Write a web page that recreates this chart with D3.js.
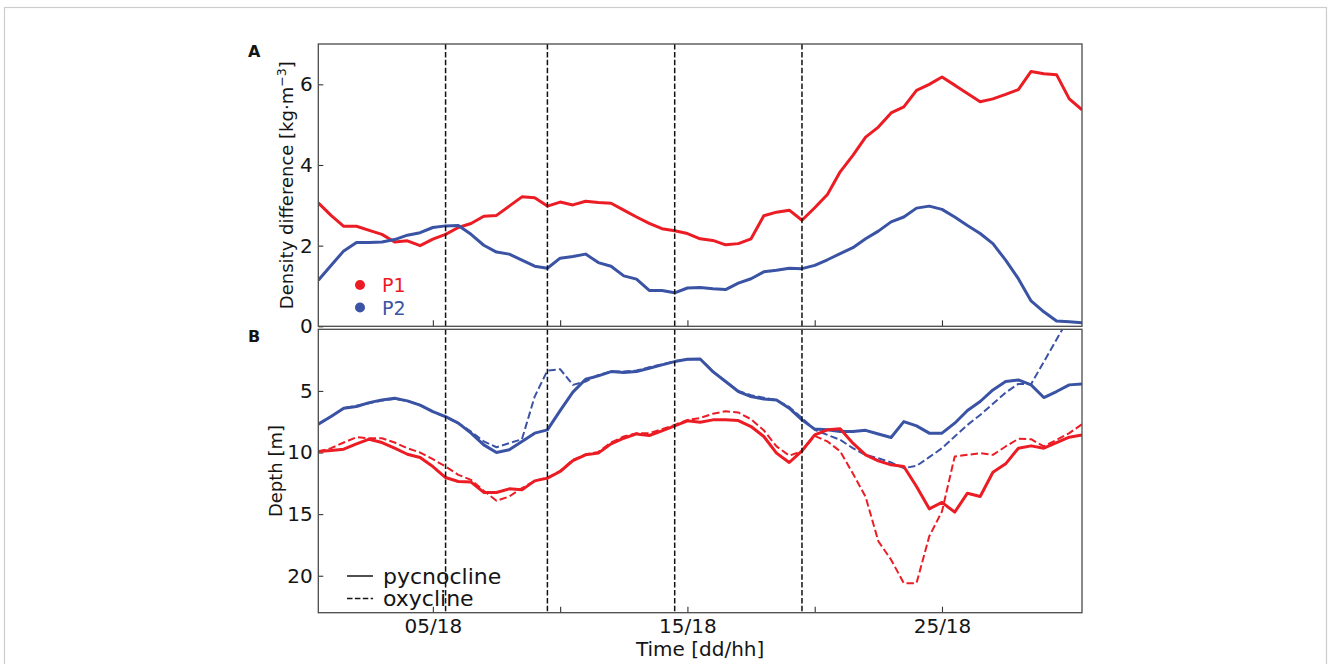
<!DOCTYPE html>
<html>
<head>
<meta charset="utf-8">
<script src="https://cdn.jsdelivr.net/npm/d3@7"></script>
<style>
  html, body { margin: 0; padding: 0; background: #fff; }
  svg { display: block; font-family: "DejaVu Sans", sans-serif; }
</style>
</head>
<body>
<svg id="chart" width="1330" height="664"></svg>
<script>
// Sampling times in days (every 12 h, starting day 1 at 06 h)
const times = [
  1.25, 1.75, 2.25, 2.75, 3.25, 3.75, 4.25, 4.75, 5.25, 5.75,
  6.25, 6.75, 7.25, 7.75, 8.25, 8.75, 9.25, 9.75, 10.25, 10.75,
  11.25, 11.75, 12.25, 12.75, 13.25, 13.75, 14.25, 14.75, 15.25, 15.75,
  16.25, 16.75, 17.25, 17.75, 18.25, 18.75, 19.25, 19.75, 20.25, 20.75,
  21.25, 21.75, 22.25, 22.75, 23.25, 23.75, 24.25, 24.75, 25.25, 25.75,
  26.25, 26.75, 27.25, 27.75, 28.25, 28.75, 29.25, 29.75, 30.25, 30.75,
  31.25
];

// Panel A: density difference across the water column [kg m^-3]
const densityP1 = [
  3.06, 2.75, 2.48, 2.48, 2.38, 2.28, 2.09, 2.12, 2.00, 2.16,
  2.28, 2.45, 2.55, 2.73, 2.75, 2.98, 3.21, 3.19, 2.98, 3.08,
  3.01, 3.10, 3.07, 3.05, 2.88, 2.71, 2.55, 2.42, 2.37, 2.30,
  2.17, 2.13, 2.02, 2.05, 2.17, 2.74, 2.83, 2.88, 2.63, 2.94,
  3.27, 3.83, 4.24, 4.69, 4.94, 5.29, 5.44, 5.85, 6.00, 6.18,
  5.98, 5.77, 5.57, 5.64, 5.75, 5.87, 6.32, 6.26, 6.24, 5.64,
  5.37
];
const densityP2 = [
  1.14, 1.51, 1.87, 2.08, 2.08, 2.09, 2.15, 2.26, 2.32, 2.45,
  2.49, 2.50, 2.28, 2.01, 1.84, 1.79, 1.64, 1.49, 1.44, 1.69,
  1.73, 1.79, 1.58, 1.49, 1.25, 1.17, 0.89, 0.89, 0.83, 0.95,
  0.96, 0.93, 0.91, 1.07, 1.18, 1.35, 1.39, 1.44, 1.43, 1.51,
  1.65, 1.80, 1.95, 2.17, 2.36, 2.59, 2.71, 2.93, 2.98, 2.90,
  2.71, 2.50, 2.30, 2.05, 1.64, 1.18, 0.63, 0.36, 0.13, 0.11,
  0.09
];

// Panel B: depth of pycnocline and oxycline [m]
const pycnoP1 = [
  9.92, 9.84, 9.73, 9.30, 8.92, 9.19, 9.65, 10.14, 10.40, 11.14,
  12.03, 12.35, 12.40, 13.24, 13.24, 12.95, 13.03, 12.30, 12.08, 11.54,
  10.65, 10.19, 10.05, 9.30, 8.84, 8.49, 8.62, 8.24, 7.84, 7.43,
  7.54, 7.35, 7.35, 7.41, 7.89, 8.70, 10.05, 10.81, 9.86, 8.57,
  8.16, 8.08, 9.24, 10.19, 10.68, 11.00, 11.14, 12.76, 14.57, 14.05,
  14.84, 13.30, 13.57, 11.60, 10.92, 9.65, 9.46, 9.65, 9.19, 8.76,
  8.57
];
const oxyP1 = [
  9.92, 9.65, 9.19, 8.76, 8.84, 8.84, 9.19, 9.65, 10.00, 10.54,
  11.14, 11.81, 12.22, 13.11, 13.92, 13.57, 12.89, 12.30, 12.05, 11.50,
  10.60, 10.15, 9.95, 9.19, 8.70, 8.43, 8.43, 8.11, 7.76, 7.35,
  7.20, 6.85, 6.65, 6.75, 7.30, 8.20, 9.50, 10.25, 9.90, 8.65,
  9.10, 9.90, 11.70, 13.60, 17.20, 18.70, 20.60, 20.60, 16.80, 14.78,
  10.32, 10.19, 10.05, 10.19, 9.51, 8.89, 8.92, 9.51, 8.97, 8.43,
  7.70
];
const pycnoP2 = [
  7.70, 7.08, 6.40, 6.27, 5.95, 5.73, 5.60, 5.81, 6.16, 6.68,
  7.08, 7.62, 8.43, 9.38, 10.00, 9.78, 9.10, 8.43, 8.16, 6.60,
  5.10, 4.05, 3.78, 3.43, 3.51, 3.43, 3.16, 2.89, 2.62, 2.43,
  2.41, 3.43, 4.24, 5.05, 5.46, 5.65, 5.73, 6.40, 7.35, 8.10,
  8.16, 8.30, 8.30, 8.20, 8.50, 8.78, 7.49, 7.84, 8.43, 8.43,
  7.62, 6.59, 5.86, 4.92, 4.24, 4.11, 4.51, 5.54, 5.05, 4.51,
  4.43
];
const oxyP2 = [
  7.70, 7.08, 6.40, 6.20, 6.00, 5.78, 5.65, 5.81, 6.16, 6.68,
  7.14, 7.62, 8.30, 9.10, 9.57, 9.24, 8.92, 5.46, 3.35, 3.24,
  4.51, 4.24, 3.70, 3.43, 3.43, 3.35, 3.08, 2.84, 2.60, 2.43,
  2.41, 3.43, 4.24, 5.00, 5.35, 5.55, 5.75, 6.30, 7.20, 8.16,
  8.57, 8.97, 9.65, 10.19, 10.46, 10.81, 11.27, 11.08, 10.38, 9.65,
  8.70, 7.76, 6.95, 6.05, 5.14, 4.43, 4.45, 2.64, 0.83, -0.98,
  -2.79
];

// Event markers (dashed verticals) and axis ticks
const eventTimes = [6.25, 10.25, 15.25, 20.25];
const timeTicks = [5.75, 10.75, 15.75, 20.75, 25.75];
const timeTickLabels = ["05/18", "", "15/18", "", "25/18"];
const densityTicks = [0, 2, 4, 6];
const depthTicks = [5, 10, 15, 20];

const RED = "#ec1c24";
const BLUE = "#3a53a4";
const INK = "#151515";

const svg = d3.select("#chart");

// light outer frame
svg.append("rect")
  .attr("x", 4.5).attr("y", 7.5).attr("width", 1322).attr("height", 700)
  .attr("fill", "none").attr("stroke", "#cdcdcd").attr("stroke-width", 1.2);

const left = 318.3, right = 1082;
const topA = 44, botA = 326.3, topB = 329.3, botB = 612.7;

const x = d3.scaleLinear().domain([1.25, 31.25]).range([left, right]);
const yA = d3.scaleLinear().domain([0, 7]).range([botA, topA]);
const yB = d3.scaleLinear().domain([0, 23]).range([topB, botB]);

const defs = svg.append("defs");
defs.append("clipPath").attr("id", "clipA").append("rect")
  .attr("x", left).attr("y", topA).attr("width", right - left).attr("height", botA - topA);
defs.append("clipPath").attr("id", "clipB").append("rect")
  .attr("x", left).attr("y", topB).attr("width", right - left).attr("height", botB - topB);

function styleAxis(g) {
  g.select(".domain").remove();
  g.selectAll(".tick line").attr("stroke", "#333").attr("stroke-width", 1.1);
  g.selectAll(".tick text").attr("fill", INK).attr("font-size", 20)
    .attr("font-family", "DejaVu Sans, sans-serif");
}

// ---- Panel A ----
const gA = svg.append("g");
gA.append("g").attr("transform", `translate(${left},0)`)
  .call(d3.axisLeft(yA).tickValues(densityTicks).tickSizeInner(-5).tickSizeOuter(0).tickPadding(5.5).tickFormat(d3.format("d")))
  .call(styleAxis);
gA.append("g").attr("transform", `translate(0,${botA})`)
  .call(d3.axisBottom(x).tickValues(timeTicks).tickSizeInner(-6).tickSizeOuter(0).tickFormat(""))
  .call(styleAxis);

const lineA = d3.line().x((d, i) => x(times[i])).y(d => yA(d));
const plotA = gA.append("g").attr("clip-path", "url(#clipA)");
[[densityP1, RED], [densityP2, BLUE]].forEach(([vals, col]) => {
  plotA.append("path").datum(vals).attr("d", lineA)
    .attr("fill", "none").attr("stroke", col).attr("stroke-width", 3)
    .attr("stroke-linejoin", "round");
});

// ---- Panel B ----
const gB = svg.append("g");
gB.append("g").attr("transform", `translate(${left},0)`)
  .call(d3.axisLeft(yB).tickValues(depthTicks).tickSizeInner(-5).tickSizeOuter(0).tickPadding(5.5).tickFormat(d3.format("d")))
  .call(styleAxis);
gB.append("g").attr("transform", `translate(0,${botB})`)
  .call(d3.axisBottom(x).tickValues(timeTicks).tickSizeInner(-6).tickSizeOuter(0).tickPadding(6)
    .tickFormat((d, i) => timeTickLabels[i]))
  .call(styleAxis);

const lineB = d3.line().x((d, i) => x(times[i])).y(d => yB(d));
const plotB = gB.append("g").attr("clip-path", "url(#clipB)");
[
  [pycnoP2, BLUE, false],
  [oxyP2, BLUE, true],
  [pycnoP1, RED, false],
  [oxyP1, RED, true]
].forEach(([vals, col, dashed]) => {
  plotB.append("path").datum(vals).attr("d", lineB)
    .attr("fill", "none").attr("stroke", col)
    .attr("stroke-width", dashed ? 2 : 3)
    .attr("stroke-dasharray", dashed ? "7.4,3.2" : null)
    .attr("stroke-linejoin", "round");
});

// event markers through both panels
[[topA, botA], [topB, botB]].forEach(([y0, y1]) => {
  svg.append("g").selectAll("line").data(eventTimes).join("line")
    .attr("x1", d => x(d)).attr("x2", d => x(d))
    .attr("y1", y0).attr("y2", y1)
    .attr("stroke", "#111").attr("stroke-width", 1.5)
    .attr("stroke-dasharray", "5.5,2.4");
});

// panel frames
[[topA, botA], [topB, botB]].forEach(([y0, y1]) => {
  svg.append("rect").attr("x", left).attr("y", y0)
    .attr("width", right - left).attr("height", y1 - y0)
    .attr("fill", "none").attr("stroke", "#4a4a4a").attr("stroke-width", 1.3);
});

// panel letters
svg.append("text").attr("x", 248).attr("y", 57).text("A")
  .attr("font-size", 16).attr("font-weight", "bold").attr("fill", INK);
svg.append("text").attr("x", 248).attr("y", 342).text("B")
  .attr("font-size", 16).attr("font-weight", "bold").attr("fill", INK);

// axis titles
const yTitleA = svg.append("text")
  .attr("transform", `translate(293,${(topA + botA) / 2}) rotate(-90)`)
  .attr("text-anchor", "middle").attr("font-size", 18).attr("fill", INK);
yTitleA.append("tspan").text("Density difference [kg·m");
yTitleA.append("tspan").attr("font-size", 12.6).attr("dy", -7).text("−3");
yTitleA.append("tspan").attr("dy", 7).text("]");

svg.append("text")
  .attr("transform", `translate(281.5,${(topB + botB) / 2}) rotate(-90)`)
  .attr("text-anchor", "middle").attr("font-size", 18).attr("fill", INK)
  .text("Depth [m]");

svg.append("text").attr("x", (left + right) / 2).attr("y", 656)
  .attr("text-anchor", "middle").attr("font-size", 20).attr("fill", INK)
  .text("Time [dd/hh]");

// legend: stations
const stations = [["P1", RED], ["P2", BLUE]];
const legA = svg.append("g");
stations.forEach(([name, col], i) => {
  legA.append("circle").attr("cx", 360).attr("cy", 285 + i * 22.5).attr("r", 5).attr("fill", col);
  legA.append("text").attr("x", 382).attr("y", 292 + i * 22.5).text(name)
    .attr("font-size", 19).attr("fill", col);
});

// legend: line styles
const lineKinds = [["pycnocline", null], ["oxycline", "5.5,2.4"]];
const legB = svg.append("g");
lineKinds.forEach(([name, dash], i) => {
  legB.append("line").attr("x1", 347).attr("x2", 373)
    .attr("y1", 576 + i * 22.5).attr("y2", 576 + i * 22.5)
    .attr("stroke", INK).attr("stroke-width", 1.5).attr("stroke-dasharray", dash);
  legB.append("text").attr("x", 383).attr("y", 583.5 + i * 22.5).text(name)
    .attr("font-size", 22).attr("fill", INK);
});
</script>
</body>
</html>
